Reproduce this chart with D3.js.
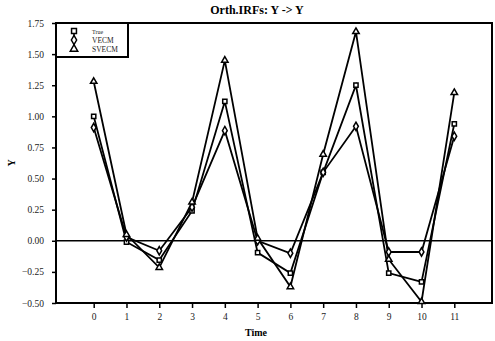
<!DOCTYPE html>
<html>
<head>
<meta charset="utf-8">
<script src="https://cdn.jsdelivr.net/npm/d3@7"></script>
<style>
  body { margin: 0; background: #fff; }
  text { font-family: "Liberation Serif", "DejaVu Serif", serif; }
</style>
</head>
<body>
<div id="chart"></div>
<script>
const periods = [0, 1, 2, 3, 4, 5, 6, 7, 8, 9, 10, 11]
const trueIrf = [1.00, -0.01, -0.155, 0.24, 1.12, -0.095, -0.26, 0.55, 1.25, -0.26, -0.33, 0.94]
const vecmIrf = [0.91, 0.03, -0.08, 0.27, 0.885, 0.0, -0.10, 0.55, 0.92, -0.09, -0.09, 0.84]
const svecmIrf = [1.28, 0.05, -0.215, 0.31, 1.45, 0.02, -0.37, 0.695, 1.68, -0.15, -0.49, 1.19]
const yTicks = [-0.5, -0.25, 0, 0.25, 0.5, 0.75, 1.0, 1.25, 1.5, 1.75]

const series = [
    { name: "True", values: trueIrf, shape: "square" },
    { name: "VECM", values: vecmIrf, shape: "diamond" },
    { name: "SVECM", values: svecmIrf, shape: "triangle" }
]

const width = 495, height = 341
const margin = { top: 23, right: 3, bottom: 38, left: 56 }

const svg = d3.select("#chart").append("svg")
    .attr("width", width)
    .attr("height", height)

const x = d3.scaleLinear().domain([-1.15, 12.15]).range([margin.left, width - margin.right])
const y = d3.scaleLinear().domain([-0.5, 1.75]).range([height - margin.bottom, margin.top])

// symbols
const symbolFor = {
    square: d3.symbol(d3.symbolSquare, 18),
    diamond: d3.symbol(d3.symbolDiamond, 20),
    triangle: d3.symbol(d3.symbolTriangle, 18)
}

// title
svg.append("text")
    .attr("x", 257).attr("y", 14)
    .attr("text-anchor", "middle")
    .attr("font-size", 12).attr("font-weight", "bold")
    .text("Orth.IRFs: Y -> Y")

// y axis
const yAxis = svg.append("g")
    .attr("transform", `translate(${margin.left},0)`)
    .call(d3.axisLeft(y).tickValues(yTicks).tickFormat(d3.format(".2f")).tickSize(4).tickPadding(8))
yAxis.select(".domain").remove()
yAxis.selectAll("line").attr("stroke", "#000").attr("stroke-width", 1.5)
yAxis.selectAll("text").attr("font-size", 9.5).attr("font-family", "Liberation Serif").attr("fill", "#222")

// x axis
const xAxis = svg.append("g")
    .attr("transform", `translate(0,${height - margin.bottom})`)
    .call(d3.axisBottom(x).tickValues(periods).tickFormat(d3.format("d")).tickSize(5).tickPadding(5))
xAxis.select(".domain").remove()
xAxis.selectAll("line").attr("stroke", "#000").attr("stroke-width", 1.5)
xAxis.selectAll("text").attr("font-size", 9.5).attr("font-family", "Liberation Serif").attr("fill", "#222")

// frame
svg.append("rect")
    .attr("x", x.range()[0]).attr("y", y.range()[1])
    .attr("width", x.range()[1] - x.range()[0])
    .attr("height", y.range()[0] - y.range()[1])
    .attr("fill", "none").attr("stroke", "#000").attr("stroke-width", 2)

// zero line
svg.append("line")
    .attr("x1", x.range()[0]).attr("x2", x.range()[1])
    .attr("y1", y(0)).attr("y2", y(0))
    .attr("stroke", "#000").attr("stroke-width", 1.5)

// axis labels
svg.append("text")
    .attr("x", 256).attr("y", 336)
    .attr("text-anchor", "middle")
    .attr("font-size", 10).attr("font-weight", "bold")
    .text("Time")

svg.append("text")
    .attr("transform", `translate(15,${y(0.625)}) rotate(-90)`)
    .attr("text-anchor", "middle")
    .attr("font-size", 10).attr("font-weight", "bold")
    .text("Y")

// lines
const line = d3.line().x((d, i) => x(periods[i])).y(d => y(d))

const g = svg.append("g")
series.forEach(s => {
    g.append("path")
        .datum(s.values)
        .attr("d", line)
        .attr("fill", "none")
        .attr("stroke", "#000")
        .attr("stroke-width", 1.8)
})
series.forEach(s => {
    g.selectAll(null)
        .data(s.values)
        .join("path")
        .attr("transform", (d, i) => `translate(${x(periods[i])},${y(d)})`)
        .attr("d", symbolFor[s.shape])
        .attr("fill", "#fff")
        .attr("stroke", "#000")
        .attr("stroke-width", 1.5)
})

// legend
const legend = svg.append("g")
legend.append("rect")
    .attr("x", 56).attr("y", 23).attr("width", 72).attr("height", 34)
    .attr("fill", "#fff").attr("stroke", "#000").attr("stroke-width", 2)
legend.append("line")
    .attr("x1", 74).attr("x2", 74).attr("y1", 31).attr("y2", 49)
    .attr("stroke", "#000").attr("stroke-width", 1.5)
const legendY = [31, 40, 49]
const legendSize = [6, 7.5, 7.5]
series.forEach((s, i) => {
    legend.append("path")
        .attr("transform", `translate(74,${legendY[i]})`)
        .attr("d", d3.symbol(d3["symbol" + s.shape[0].toUpperCase() + s.shape.slice(1)], 24))
        .attr("fill", "#fff").attr("stroke", "#000").attr("stroke-width", 1.5)
    legend.append("text")
        .attr("x", 92).attr("y", legendY[i] + 2.5)
        .attr("font-size", legendSize[i])
        .attr("fill", "#222")
        .text(s.name)
})
</script>
</body>
</html>
